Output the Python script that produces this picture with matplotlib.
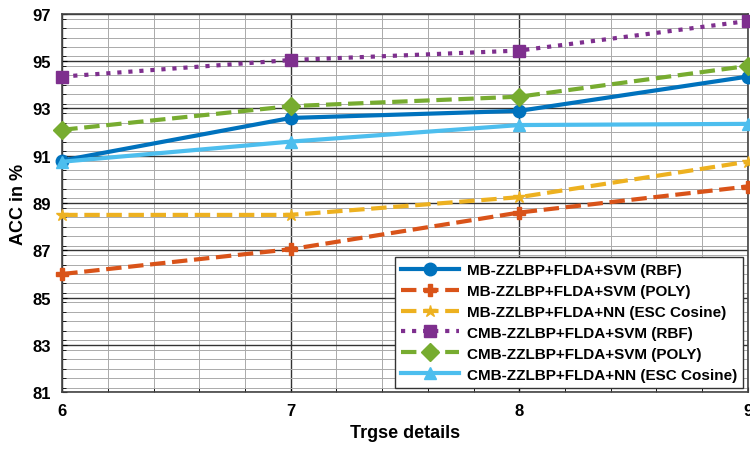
import matplotlib
matplotlib.use("Agg")
import matplotlib.pyplot as plt
from matplotlib.ticker import MultipleLocator

plt.rcParams['font.family'] = ['Liberation Sans', 'DejaVu Sans']
plt.rcParams['font.weight'] = 'bold'

x = [6, 7, 8, 9]
labels = ['MB-ZZLBP+FLDA+SVM (RBF)', 'MB-ZZLBP+FLDA+SVM (POLY)',
          'MB-ZZLBP+FLDA+NN (ESC Cosine)', 'CMB-ZZLBP+FLDA+SVM (RBF)',
          'CMB-ZZLBP+FLDA+SVM (POLY)', 'CMB-ZZLBP+FLDA+NN (ESC Cosine)']
mb_rbf = [90.8, 92.6, 92.9, 94.35]
mb_poly = [86.0, 87.05, 88.6, 89.7]
mb_nn = [88.5, 88.5, 89.25, 90.75]
cmb_rbf = [94.35, 95.05, 95.45, 96.7]
cmb_poly = [92.1, 93.1, 93.5, 94.8]
cmb_nn = [90.75, 91.6, 92.3, 92.35]

series = [mb_rbf, mb_poly, mb_nn, cmb_rbf, cmb_poly, cmb_nn]
colors = ['#0072BD', '#D95319', '#EDB120', '#7E2F8E', '#77AC30', '#4DBEEE']
markers = ['o', 'P', '*', 's', 'D', '^']
styles = ['-', '--', '--', ':', '--', '-']

fig = plt.figure(figsize=(7.5, 4.52), dpi=100)
ax = fig.add_axes([0.083, 0.13, 0.914, 0.837])

for ys, lab, c, m, ls in zip(series, labels, colors, markers, styles):
    ax.plot(x, ys, color=c, marker=m, linestyle=ls, linewidth=3,
            markersize=9, label=lab, clip_on=False, zorder=3)

ax.set_xlim(6, 9)
ax.set_ylim(81, 97)
ax.set_xticks(x)
ax.set_yticks(range(81, 98, 2))
ax.xaxis.set_minor_locator(MultipleLocator(0.2))
ax.yaxis.set_minor_locator(MultipleLocator(0.4))
ax.grid(which='major', color='#333333', linewidth=1.0)
ax.grid(which='minor', color='#aaaaaa', linewidth=0.7)
ax.set_axisbelow(True)
for s in ax.spines.values():
    s.set_color('#444444')
    s.set_linewidth(1.2)
ax.tick_params(which='both', direction='in', labelsize=12, pad=8)
ax.tick_params(which='minor', length=3)

ax.set_xlabel('Trgse details', fontsize=13, fontweight='bold')
ax.set_ylabel('ACC in %', fontsize=13, fontweight='bold')

leg = ax.legend(loc='lower right', fontsize=11, framealpha=1, fancybox=False,
                edgecolor='#333333', handlelength=3.8, borderaxespad=0.3,
                labelspacing=0.45, handletextpad=0.5)
leg.get_frame().set_linewidth(1.0)

fig.savefig('out.png', dpi=100)
